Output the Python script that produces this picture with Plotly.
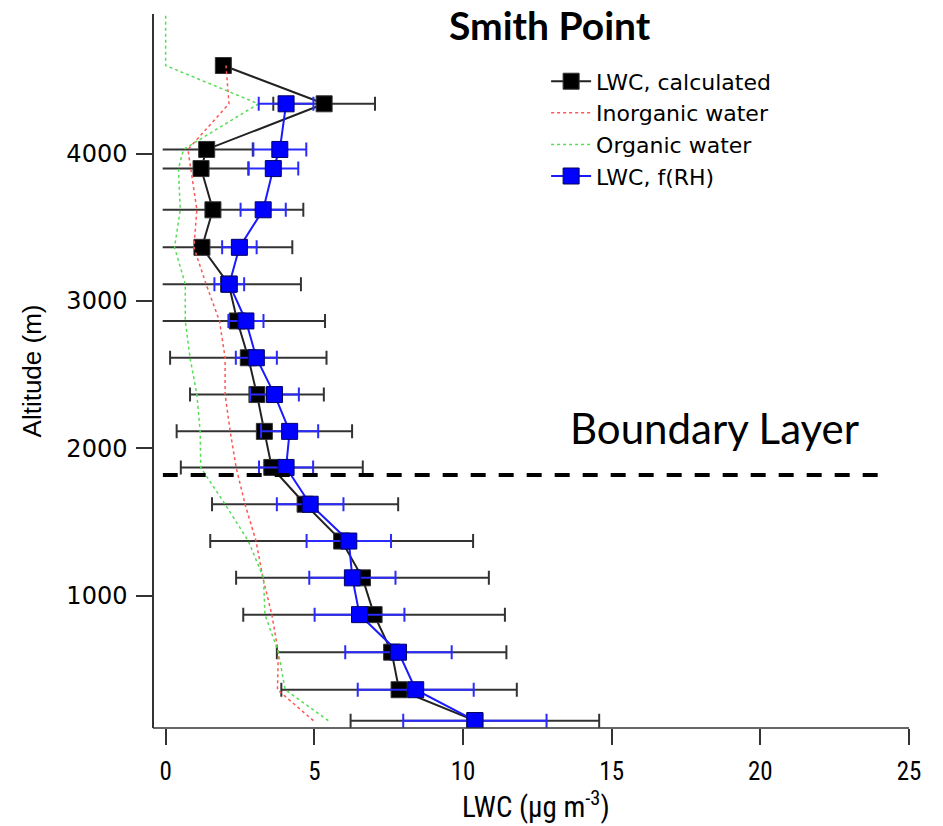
import plotly.graph_objects as go

# ---- data ----
altitude = [150, 360, 615, 870, 1120, 1370, 1620, 1870, 2115, 2365, 2615, 2865,
            3115, 3365, 3620, 3900, 4030, 4340, 4600]
lwc_calc = [10.40, 7.85, 7.60, 7.01, 6.62, 5.92, 4.69, 3.57, 3.32, 3.07, 2.78, 2.41,
            2.12, 1.22, 1.59, 1.19, 1.38, 5.33, 1.94]
lwc_calc_err = [4.18, 3.96, 3.86, 4.40, 4.25, 4.42, 3.13, 3.06, 2.95, 2.25, 2.63, 2.95,
                2.43, 3.04, 3.04, 1.60, 1.55, 1.71, 0.0]
lwc_frh = [10.40, 8.41, 7.83, 6.52, 6.28, 6.16, 4.86, 4.05, 4.17, 3.66, 3.05, 2.70,
           2.14, 2.48, 3.28, 3.62, 3.84, 4.05, None]
lwc_frh_err = [2.41, 1.95, 1.79, 1.51, 1.45, 1.42, 1.12, 0.91, 0.96, 0.82, 0.69, 0.59,
               0.50, 0.58, 0.76, 0.84, 0.89, 0.92, None]
inorganic = [4.97, 3.76, 3.79, 3.57, 3.27, 3.04, 2.67, 2.37, 2.17, 2.00, 2.00, 1.81,
             1.36, 0.95, 1.05, 0.85, 0.75, 2.13, 2.03]
organic_alt = altitude + [5200]
organic = [5.47, 4.02, 3.79, 3.34, 3.29, 2.78, 2.00, 1.18, 1.16, 1.05, 0.82, 0.66,
           0.66, 0.30, 0.49, 0.43, 0.60, 3.12, 0.00, 0.00]
boundary_layer_alt = 1818
boundary_x = [-0.1, 23.95]
x_ticks = [0, 5, 10, 15, 20, 25]
y_ticks = [1000, 2000, 3000, 4000]

fig = go.Figure()

fig.add_trace(go.Scatter(
    x=lwc_calc, y=altitude, mode="lines+markers", name="LWC, calculated",
    line=dict(color="#222222", width=2),
    marker=dict(symbol="square", size=16, color="#000000", line=dict(color="#333333", width=1)),
    error_x=dict(type="data", array=lwc_calc_err, visible=True, color="#333333",
                 thickness=2, width=7),
))
fig.add_trace(go.Scatter(
    x=inorganic, y=altitude, mode="lines", name="Inorganic water",
    line=dict(color="#ff5555", width=1.5, dash="dot"),
))
fig.add_trace(go.Scatter(
    x=organic, y=organic_alt, mode="lines", name="Organic water",
    line=dict(color="#55dd55", width=1.5, dash="dot"),
))
fig.add_trace(go.Scatter(
    x=lwc_frh, y=altitude, mode="lines+markers", name="LWC, f(RH)",
    line=dict(color="#1a1aff", width=2),
    marker=dict(symbol="square", size=16, color="#0000ff", line=dict(color="#000066", width=1)),
    error_x=dict(type="data", array=lwc_frh_err, visible=True, color="#2a2aff",
                 thickness=2, width=7),
))

# boundary layer dashed line
fig.add_shape(type="line", xref="x", yref="y",
              x0=boundary_x[0], x1=boundary_x[1], y0=boundary_layer_alt, y1=boundary_layer_alt,
              line=dict(color="black", width=4, dash="15px,13px"))
# x axis line spanning to the offset y axis
fig.add_shape(type="line", xref="paper", yref="paper", x0=0, x1=1, y0=0, y1=0,
              line=dict(color="#333333", width=1.5))

fig.add_annotation(text="<b>Smith Point</b>", xref="paper", yref="paper",
                   x=0.525, y=0.985, showarrow=False, xanchor="center", yanchor="middle",
                   font=dict(family="Lato", size=39, color="black"))
fig.add_annotation(text="Boundary Layer", xref="paper", yref="paper",
                   x=0.743, y=0.42, showarrow=False, xanchor="center", yanchor="middle",
                   font=dict(family="Lato", size=42, color="black"))

narrow = "Liberation Sans Narrow, Roboto Condensed, Roboto"

fig.update_layout(
    width=943, height=826,
    margin=dict(l=153, r=34, t=14, b=98),
    paper_bgcolor="white", plot_bgcolor="white",
    showlegend=True,
    legend=dict(x=0.52, y=0.935, xanchor="left", yanchor="top",
                bgcolor="rgba(0,0,0,0)", font=dict(family="DejaVu Sans", size=22, color="black"),
                tracegroupgap=0, itemwidth=40),
    xaxis=dict(domain=[0.0128, 1], range=[-0.1, 25], tickvals=x_ticks,
               ticks="outside", ticklen=16, tickwidth=1.5, tickcolor="#333333",
               ticklabelstandoff=5,
               showline=False, showgrid=False, zeroline=False,
               tickfont=dict(family=narrow, size=25, color="black"),
               title=dict(text="LWC (μg m<sup>-3</sup>)", standoff=8,
                          font=dict(family=narrow, size=29, color="black"))),
    yaxis=dict(anchor="free", position=0, range=[100, 4950], tickvals=y_ticks,
               ticks="outside", ticklen=16, tickwidth=1.5, tickcolor="#333333",
               ticklabelstandoff=4,
               showline=True, linecolor="#333333", linewidth=1.5,
               showgrid=False, zeroline=False,
               tickfont=dict(family="DejaVu Sans", size=24, color="black"),
               title=dict(text="Altitude (m)", standoff=16,
                          font=dict(family="Liberation Sans, Arial", size=26, color="black"))),
)

fig.write_html("out.html")
